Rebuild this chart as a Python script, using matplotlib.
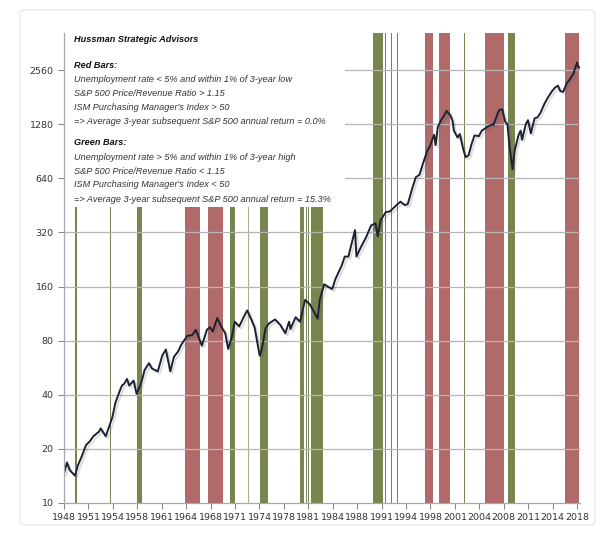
import numpy as np
import matplotlib
matplotlib.use("Agg")
import matplotlib.pyplot as plt
import matplotlib.patheffects as pe
from matplotlib.patches import Rectangle, FancyBboxPatch

# S&P 500 (log scale)
years = [1948.0, 1948.4, 1948.8, 1949.5, 1949.9, 1950.5, 1951.0, 1951.5, 1952.0, 1952.8,
         1953.0, 1953.7, 1954.0, 1954.6, 1955.0, 1955.6, 1955.9, 1956.2, 1956.6, 1956.9,
         1957.5, 1957.9, 1958.5, 1959.0, 1959.6, 1960.0, 1960.8, 1961.4, 1961.9, 1962.5,
         1963.0, 1963.6, 1964.0, 1964.8, 1965.5, 1966.0, 1966.8, 1967.5, 1967.9, 1968.3,
         1968.9, 1969.5, 1970.0, 1970.4, 1970.9, 1971.3, 1971.9, 1972.5, 1973.0, 1973.6,
         1974.0, 1974.7, 1975.0, 1975.5, 1976.0, 1976.8, 1977.5, 1978.2, 1978.7, 1978.9,
         1979.6, 1980.2, 1980.9, 1981.5, 1982.0, 1982.6, 1982.9, 1983.5, 1984.0, 1984.6,
         1985.0, 1985.9, 1986.3, 1986.8, 1987.7, 1987.9, 1988.5, 1989.2, 1989.9, 1990.5,
         1990.8, 1991.2, 1991.9, 1992.5, 1993.0, 1993.9, 1994.5, 1994.9, 1995.5, 1996.0,
         1996.5, 1997.0, 1997.6, 1997.9, 1998.5, 1998.7, 1999.0, 1999.5, 1999.9, 2000.2,
         2000.7, 2001.0, 2001.2, 2001.7, 2002.0, 2002.5, 2002.8, 2003.2, 2003.6, 2004.0,
         2004.6, 2005.0, 2005.8, 2006.4, 2006.6, 2007.2, 2007.4, 2007.8, 2008.2, 2008.5,
         2008.8, 2009.2, 2009.5, 2010.0, 2010.3, 2010.5, 2011.0, 2011.3, 2011.7, 2012.2,
         2012.6, 2013.0, 2013.5, 2014.0, 2014.6, 2015.0, 2015.4, 2015.7, 2016.1, 2016.6,
         2017.0, 2017.5, 2018.0, 2018.1, 2018.3]
spx = [14.6, 16.8, 15.2, 14.2, 16.2, 18.5, 21.0, 22.0, 23.5, 25.0,
       26.0, 23.5, 25.5, 30, 36, 42, 45, 46, 49, 45,
       48, 40.5, 46, 55, 60, 56, 54, 66, 71.5, 54,
       65, 70, 76, 85, 86, 92, 75, 92, 95, 90,
       107, 95, 88, 72, 84, 102, 96, 108, 118, 104,
       95, 66, 72, 94, 100, 105, 98, 88, 102, 93,
       108, 102, 135, 128, 118, 106, 135, 165, 160, 155,
       175, 210, 235, 235, 330, 235, 265, 300, 350, 360,
       305, 375, 415, 420, 440, 475, 455, 460, 560, 650,
       670, 780, 920, 960, 1120, 980, 1240, 1360, 1440, 1520,
       1440, 1340, 1180, 1080, 1130, 920, 840, 860, 990, 1110,
       1100, 1180, 1240, 1280, 1270, 1480, 1540, 1550, 1320, 1280,
       950, 720, 920, 1110, 1180, 1050, 1280, 1350, 1140, 1380,
       1400, 1480, 1650, 1800, 1960, 2050, 2100, 1960, 1940, 2170,
       2270, 2450, 2830, 2700, 2650]

red_bars = [(1964.5, 1966.6), (1967.7, 1969.7), (1997.25, 1998.4),
            (1999.1, 2000.6), (2005.5, 2008.0), (2016.3, 2018.2)]
green_bars = [(1949.55, 1949.72), (1954.25, 1954.38), (1958.0, 1958.6),
              (1970.6, 1971.3), (1974.8, 1975.8), (1980.2, 1980.7),
              (1981.05, 1981.15), (1981.3, 1981.4), (1981.7, 1983.3),
              (1990.1, 1991.5), (1991.85, 1991.98), (1992.65, 1992.78),
              (1993.45, 1993.58), (2002.6, 2002.7), (2008.6, 2009.6)]
grey_lines = [1973.1]

y_ticks = [10, 20, 40, 80, 160, 320, 640, 1280, 2560]
x_ticks = [1948 + k * 40 / 12 for k in range(22)]
x_labels = [str(int(t + 1e-6)) for t in x_ticks]

fig = plt.figure(figsize=(6.11, 5.35), dpi=100)
fig.patches.append(FancyBboxPatch((20 / 611, 10 / 535), 575 / 611, 515 / 535,
                                  boxstyle="round,pad=0,rounding_size=0.008",
                                  transform=fig.transFigure, fc="white",
                                  ec="#e4e4e4", lw=0.8, zorder=-1))
ax = fig.add_axes([64 / 611, 1 - 503 / 535, 516 / 611, 470 / 535])
ax.set_zorder(1)
ax.patch.set_alpha(0)

red_c = "#b06a6a"
green_c = "#77864f"
for a, b in red_bars:
    ax.axvspan(a, b, color=red_c, lw=0, zorder=1)
for a, b in green_bars:
    ax.axvspan(a, b, color=green_c, lw=0, zorder=1)
for a in grey_lines:
    ax.axvline(a, color="#b3ab93", lw=0.8, zorder=1)

ax.set_yscale("log", base=2)
ax.set_ylim(10, 10 * 2 ** (470 / 54.1))
ax.set_xlim(1948.0, 2018.4)

for v in y_ticks[1:]:
    ax.axhline(v, color="#b8b3b3", lw=0.9, zorder=2)

ax.plot(years, spx, color="#1b2232", lw=1.4, zorder=4,
        path_effects=[pe.SimpleLineShadow(offset=(1.5, -1.5), alpha=0.2, shadow_color="#555555"),
                      pe.Normal()])

# white text box covering bars/grid in the upper left
ax.add_patch(Rectangle((0, (503 - 207) / 470), (345 - 64) / 516, 1,
                       transform=ax.transAxes, fc="white", ec="none", zorder=3))

ax.set_yticks(y_ticks)
ax.set_yticklabels([str(v) for v in y_ticks])
ax.yaxis.set_minor_locator(matplotlib.ticker.NullLocator())
ax.set_xticks(x_ticks)
ax.set_xticklabels(x_labels)
ax.tick_params(axis="both", labelsize=6.8, colors="#888888", labelcolor="#333333",
               length=4, width=0.8)
ax.tick_params(axis="x", pad=3)
for s in ["top", "right"]:
    ax.spines[s].set_visible(False)
for s in ["left", "bottom"]:
    ax.spines[s].set_color("#a8a8a8")
    ax.spines[s].set_linewidth(0.9)
    ax.spines[s].set_zorder(5)

fam = ["Liberation Sans", "DejaVu Sans"]
lines = [
    (40, "Hussman Strategic Advisors", "bold", "#111111"),
    (65, "Red Bars:", "bold", "#111111"),
    (80, "Unemployment rate < 5% and within 1% of 3-year low", "normal", "#333333"),
    (94, "S&P 500 Price/Revenue Ratio > 1.15", "normal", "#333333"),
    (108, "ISM Purchasing Manager's Index > 50", "normal", "#333333"),
    (122, "=> Average 3-year subsequent S&P 500 annual return = 0.0%", "normal", "#333333"),
    (142, "Green Bars:", "bold", "#111111"),
    (157, "Unemployment rate > 5% and within 1% of 3-year high", "normal", "#333333"),
    (171, "S&P 500 Price/Revenue Ratio < 1.15", "normal", "#333333"),
    (185, "ISM Purchasing Manager's Index < 50", "normal", "#333333"),
    (199, "=> Average 3-year subsequent S&P 500 annual return = 15.3%", "normal", "#333333"),
]
for ypx, txt, w, c in lines:
    fig.text(74 / 611, 1 - ypx / 535, txt, family=fam, style="italic", weight=w,
             color=c, fontsize=6.6, va="center", ha="left", zorder=10)

fig.savefig("out.png", dpi=100)
